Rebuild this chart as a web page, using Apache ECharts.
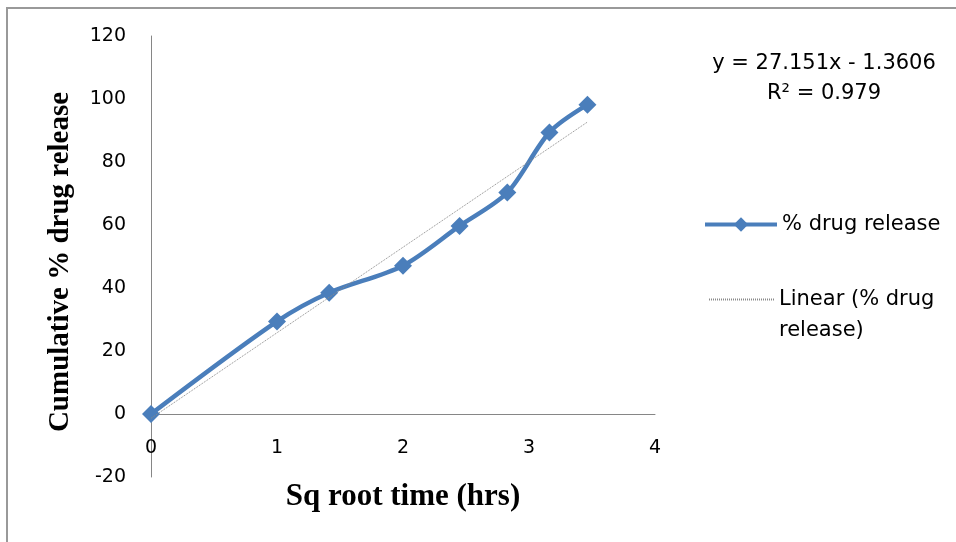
<!DOCTYPE html>
<html>
<head>
<meta charset="utf-8">
<script src="https://cdn.jsdelivr.net/npm/echarts@6/dist/echarts.min.js"></script>
<style>
html,body{margin:0;padding:0;background:#fff;}
#chart{width:956px;height:542px;}
</style>
</head>
<body>
<div id="chart"></div>
<script>
// Data
const sqRootTime = [0, 1, 1.414, 2, 2.449, 2.828, 3.162, 3.464];
const drugRelease = [0, 29.4, 38.5, 47.1, 59.7, 70.3, 89.4, 98.2];
const trendSlope = 27.151;
const trendIntercept = -1.3606;
const equationLines = ['y = 27.151x - 1.3606', 'R² = 0.979'];
const xTicks = [0, 1, 2, 3, 4];
const yTicks = [-20, 0, 20, 40, 60, 80, 100, 120];
const seriesName = '% drug release';
const trendName = 'Linear (% drug release)';
const xTitle = 'Sq root time (hrs)';
const yTitle = 'Cumulative % drug release';

const mainData = sqRootTime.map((x, i) => [x, drugRelease[i]]);
const xEnd = sqRootTime[sqRootTime.length - 1];
const trendData = [[0, trendSlope * 0 + trendIntercept], [xEnd, trendSlope * xEnd + trendIntercept]];

const chart = echarts.init(document.getElementById('chart'), null, {renderer: 'canvas'});
const labelFont = 'DejaVu Sans';
const titleStyle = {fontFamily: 'Liberation Serif', fontWeight: 'bold', color: '#000'};
const option = {
  backgroundColor: '#ffffff',
  animation: false,
  grid: [
    {left: 151, right: 301, top: 36, bottom: 65, containLabel: false, outerBoundsMode: 'none'},
    // companion grid whose bottom edge sits on the zero line, used to place x tick labels beside the axis
    {left: 151, right: 301, top: 36, bottom: 129, containLabel: false, outerBoundsMode: 'none'}
  ],
  xAxis: [
    {
      gridIndex: 0,
      type: 'value',
      min: xTicks[0], max: xTicks[xTicks.length - 1], interval: 1,
      axisLine: {onZero: true, lineStyle: {color: '#868686', width: 1}},
      axisTick: {show: false},
      splitLine: {show: false},
      axisLabel: {show: false}
    },
    {
      gridIndex: 1,
      type: 'value',
      min: xTicks[0], max: xTicks[xTicks.length - 1], interval: 1,
      axisLine: {show: false},
      axisTick: {show: false},
      splitLine: {show: false},
      axisLabel: {margin: 26, color: '#000', fontFamily: labelFont, fontSize: 19},
      name: xTitle,
      nameLocation: 'middle',
      nameGap: 68,
      nameTextStyle: Object.assign({fontSize: 31}, titleStyle)
    }
  ],
  yAxis: [
    {
      gridIndex: 0,
      type: 'value',
      min: yTicks[0], max: yTicks[yTicks.length - 1], interval: 20,
      axisLine: {show: true, lineStyle: {color: '#868686', width: 1}},
      axisTick: {show: false},
      splitLine: {show: false},
      axisLabel: {margin: 25, color: '#000', fontFamily: labelFont, fontSize: 19},
      name: yTitle,
      nameLocation: 'middle',
      nameGap: 76,
      nameTextStyle: Object.assign({fontSize: 29, padding: [0, 11, 0, 0]}, titleStyle)
    },
    {
      gridIndex: 1,
      type: 'value', min: 0, max: 120, show: false
    }
  ],
  legend: [
    {
      data: [seriesName],
      orient: 'vertical',
      left: 703, top: 214, padding: 0,
      itemWidth: 72, itemHeight: 18, itemGap: 5,
      lineStyle: {width: 4},
      textStyle: {fontFamily: labelFont, fontSize: 21, color: '#000'},
      selectedMode: false
    },
    {
      data: [trendName],
      orient: 'vertical',
      left: 708, top: 253, padding: 0,
      itemWidth: 65, itemHeight: 16, itemGap: 5,
      itemStyle: {opacity: 0},
      formatter: () => ' \nLinear (% drug\nrelease)',
      textStyle: {fontFamily: labelFont, fontSize: 21, color: '#000', lineHeight: 31},
      selectedMode: false
    }
  ],
  graphic: [
    {
      type: 'rect', silent: true,
      shape: {x: 7, y: 8, width: 1000, height: 600},
      style: {fill: 'none', stroke: '#999999', lineWidth: 2}
    },
    {
      type: 'text', silent: true,
      x: 824, y: 79,
      style: {
        text: equationLines.join('\n'),
        fontFamily: labelFont, fontSize: 21, lineHeight: 30,
        fill: '#000', align: 'center', verticalAlign: 'middle'
      }
    }
  ],
  series: [
    {
      name: trendName,
      type: 'line',
      xAxisIndex: 0, yAxisIndex: 0,
      data: trendData,
      symbol: 'none',
      lineStyle: {color: '#8a8a8a', width: 1, type: [1, 1]},
      itemStyle: {color: '#8a8a8a'},
      z: 3
    },
    {
      name: seriesName,
      type: 'line',
      xAxisIndex: 0, yAxisIndex: 0,
      data: mainData,
      smooth: 0.3,
      symbol: 'diamond',
      symbolSize: 18,
      lineStyle: {color: '#4A7EBB', width: 4.5},
      itemStyle: {color: '#4A7EBB'},
      z: 2
    }
  ]
};
chart.setOption(option);
</script>
</body>
</html>
